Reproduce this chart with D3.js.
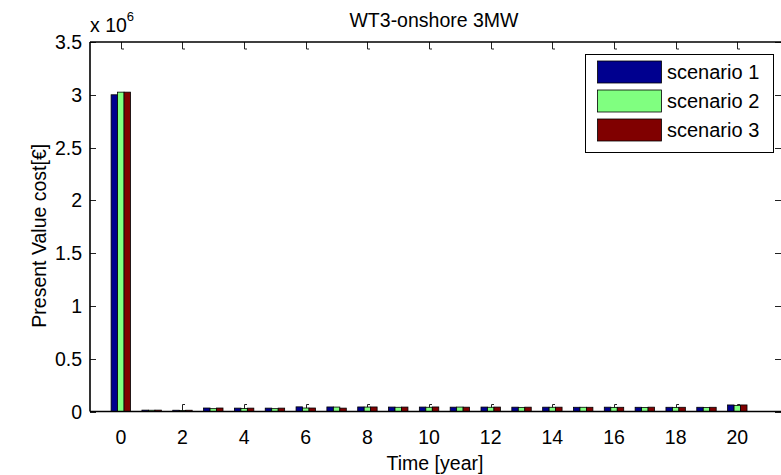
<!DOCTYPE html>
<html><head><meta charset="utf-8">
<script src="https://cdn.jsdelivr.net/npm/d3@7"></script>
<style>
html,body{margin:0;padding:0;background:#fff;}
svg{display:block;font-family:"Liberation Sans",Arial,sans-serif;}
</style></head>
<body>
<svg id="c" width="781" height="475"></svg>
<script>
const years = d3.range(0, 21);
const seriesNames = ["scenario 1", "scenario 2", "scenario 3"];
const scenario1 = [3.0e6, 1.3e4, 1.2e4, 3.3e4, 3.2e4, 3.2e4, 4.4e4, 4.3e4, 4.3e4, 4.2e4, 4.2e4, 4.1e4, 4.2e4, 4.1e4, 4.1e4, 4.0e4, 4.1e4, 4.0e4, 4.0e4, 4.0e4, 6.2e4];
const scenario2 = [3.025e6, 1.2e4, 1.0e4, 2.7e4, 2.8e4, 2.7e4, 3.3e4, 4.2e4, 4.2e4, 4.0e4, 4.0e4, 4.2e4, 4.0e4, 3.9e4, 4.0e4, 4.0e4, 3.9e4, 3.8e4, 3.9e4, 3.8e4, 5.8e4];
const scenario3 = [3.025e6, 1.3e4, 1.2e4, 3.3e4, 3.2e4, 3.2e4, 3.3e4, 3.2e4, 4.3e4, 4.2e4, 4.3e4, 4.1e4, 4.2e4, 4.1e4, 4.1e4, 4.0e4, 4.0e4, 4.1e4, 4.0e4, 4.0e4, 6.2e4];
const seriesValues = [scenario1, scenario2, scenario3];
const colors = ["#00008f", "#80ff80", "#800000"];
const xTickValues = [0, 2, 4, 6, 8, 10, 12, 14, 16, 18, 20];
const yTickValues = [0, 0.5e6, 1e6, 1.5e6, 2e6, 2.5e6, 3e6, 3.5e6];
const yTickLabels = ["0", "0.5", "1", "1.5", "2", "2.5", "3", "3.5"];
const xDomain = [-1, 21.45];
const yDomain = [0, 3.5e6];

const svg = d3.select("#c");
const L = 90, R = 782, T = 42, B = 411.5;
const x = d3.scaleLinear().domain(xDomain).range([L, R]);
const y = d3.scaleLinear().domain(yDomain).range([B, T]);
const fs = 19.5;

// ticks (drawn before bars)
const tk = svg.append("g").attr("stroke", "#222").attr("stroke-width", 1).attr("fill", "none");
xTickValues.forEach(v => {
  const xv = Math.round(x(v)) + 0.5;
  tk.append("path").attr("d", `M${xv},${B} V${B - 7} h2.5`);
  tk.append("path").attr("d", `M${xv},${T} V${T + 7} h2.5`);
});
yTickValues.forEach(v => {
  const yv = Math.round(y(v)) + 0.5;
  tk.append("path").attr("d", `M${L},${yv} H${L + 6}`);
  tk.append("path").attr("d", `M${R},${yv} H${R - 7}`);
});

// bars
const bw = 0.21;
seriesValues.forEach((vals, si) => {
  svg.append("g").selectAll("rect").data(years).join("rect")
    .attr("x", d => x(d + (si - 1) * bw - bw / 2))
    .attr("width", d => x(bw) - x(0))
    .attr("y", (d, i) => y(vals[i]))
    .attr("height", (d, i) => B - y(vals[i]))
    .attr("fill", colors[si])
    .attr("stroke", "#000")
    .attr("stroke-width", 0.8);
});

// axes frame
svg.append("path").attr("d", `M${L},${T} H${R + 2} M${L},${T} V${B} M${L},${B} H${R + 2}`)
  .attr("stroke", "#000").attr("stroke-width", 1.6).attr("fill", "none");

// tick labels
svg.append("g").selectAll("text").data(xTickValues).join("text")
  .attr("x", d => x(d)).attr("y", 444).attr("text-anchor", "middle")
  .attr("font-size", fs).text(d => d);
svg.append("g").selectAll("text").data(yTickValues).join("text")
  .attr("x", 82).attr("y", d => y(d) + 7).attr("text-anchor", "end")
  .attr("font-size", fs).text((d, i) => yTickLabels[i]);

// exponent
const ex = svg.append("text").attr("x", 90).attr("y", 32).attr("font-size", fs);
ex.append("tspan").text("x 10");
ex.append("tspan").attr("font-size", 13).attr("dy", -11).text("6");

// title and labels
svg.append("text").attr("x", 434).attr("y", 27).attr("text-anchor", "middle")
  .attr("font-size", fs).text("WT3-onshore 3MW");
svg.append("text").attr("x", (L + 782) / 2 - 1).attr("y", 470).attr("text-anchor", "middle")
  .attr("font-size", fs).text("Time [year]");
svg.append("text").attr("transform", `translate(46,${(T + B) / 2 + 9}) rotate(-90)`)
  .attr("text-anchor", "middle").attr("font-size", fs).text("Present Value cost[€]");

// legend
const lg = svg.append("g");
lg.append("rect").attr("x", 585.5).attr("y", 54.5).attr("width", 188).attr("height", 98)
  .attr("fill", "#fff").attr("stroke", "#000").attr("stroke-width", 1);
seriesNames.forEach((n, i) => {
  const ry = 61 + i * 29;
  lg.append("rect").attr("x", 597.5).attr("y", ry).attr("width", 64).attr("height", 22)
    .attr("fill", colors[i]).attr("stroke", "#000").attr("stroke-width", 0.8);
  lg.append("text").attr("x", 667).attr("y", ry + 18).attr("font-size", fs + 0.5).text(n);
});
</script>
</body></html>
